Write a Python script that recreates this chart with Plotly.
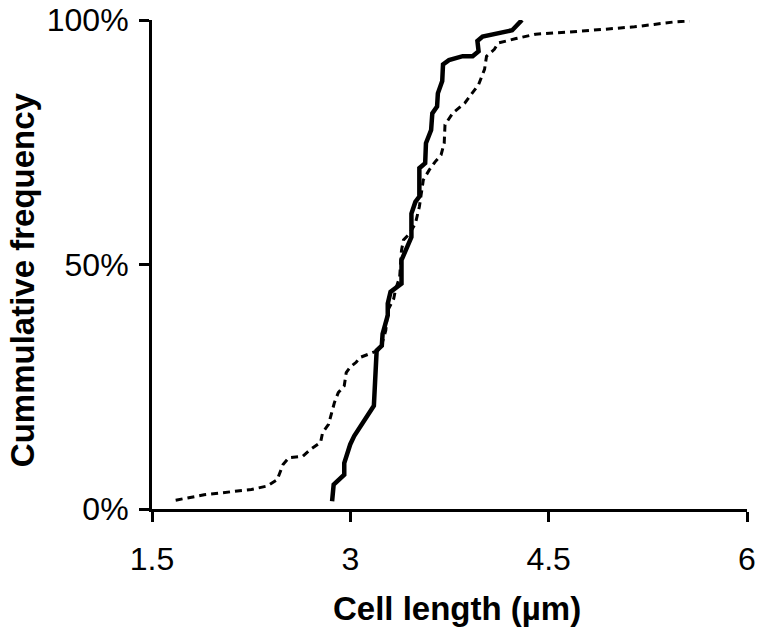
import plotly.graph_objects as go

# Solid curve (cell length in µm, cumulative %)
solid_x = [2.862, 2.874, 2.954, 2.954, 2.999, 3.029, 3.178, 3.193, 3.199, 3.238, 3.244, 3.283, 3.283,
           3.304, 3.387, 3.387, 3.462, 3.462, 3.492, 3.522, 3.522, 3.566, 3.572, 3.611, 3.620, 3.656,
           3.662, 3.695, 3.701, 3.746, 3.850, 3.925, 3.970, 3.961, 4.000, 4.224, 4.269, 4.298]
solid_y = [1.6, 5.0, 7.0, 9.4, 13.2, 14.9, 21.1, 27.9, 32.4, 33.4, 35.8, 39.6, 42.0,
           44.4, 46.1, 50.9, 55.6, 60.4, 62.8, 63.9, 69.7, 70.7, 74.8, 77.5, 80.9, 82.3,
           85.0, 87.5, 90.9, 91.8, 92.6, 92.6, 93.6, 95.7, 96.6, 97.9, 99.1, 100.0]

# Dashed curve
dashed_x = [1.679, 1.894, 2.252, 2.372, 2.447, 2.491, 2.536, 2.641, 2.700, 2.775, 2.790, 2.835, 2.880,
            2.909, 2.954, 2.969, 2.999, 3.044, 3.074, 3.208, 3.238, 3.268, 3.283, 3.328, 3.343, 3.373,
            3.387, 3.402, 3.447, 3.492, 3.522, 3.537, 3.552, 3.596, 3.641, 3.686, 3.710, 3.716, 3.776,
            3.865, 3.925, 3.970, 4.015, 4.030, 4.089, 4.119, 4.253, 4.402, 4.641, 5.149, 5.298, 5.447, 5.566]
dashed_y = [1.8, 2.9, 4.0, 4.7, 6.0, 9.1, 10.5, 10.8, 12.2, 13.6, 15.6, 17.3, 21.8,
            23.8, 25.2, 27.9, 29.0, 30.0, 31.0, 32.4, 33.7, 36.5, 40.6, 43.0, 45.0, 47.4,
            52.9, 55.0, 56.3, 58.4, 61.8, 64.2, 67.3, 69.3, 71.0, 72.4, 74.8, 78.6, 81.0,
            83.0, 85.1, 86.8, 89.9, 92.6, 94.0, 95.3, 96.2, 97.1, 97.5, 98.6, 99.1, 99.6, 99.8]

x_ticks = [1.5, 3, 4.5, 6]
x_tick_labels = ["1.5", "3", "4.5", "6"]
y_ticks = [0, 50, 100]
y_tick_labels = ["0%", "50%", "100%"]

FONT = "Liberation Sans, Arial, sans-serif"

fig = go.Figure()
fig.add_trace(go.Scatter(x=dashed_x, y=dashed_y, mode="lines",
                         line=dict(color="black", width=3, dash="7px,5px"),
                         showlegend=False, hoverinfo="skip"))
fig.add_trace(go.Scatter(x=solid_x, y=solid_y, mode="lines",
                         line=dict(color="black", width=4.5),
                         showlegend=False, hoverinfo="skip"))

fig.update_layout(
    width=764, height=633,
    margin=dict(l=152, r=17, t=20, b=124, autoexpand=False),
    paper_bgcolor="white", plot_bgcolor="white",
    font=dict(family=FONT, size=32, color="black"),
    xaxis=dict(range=[1.5, 6], tickvals=x_ticks, ticktext=x_tick_labels, automargin=False,
               showgrid=False, zeroline=False, showline=True, linecolor="black", linewidth=3,
               ticks="outside", ticklen=10, tickwidth=3, tickcolor="black",
               ticklabelstandoff=10,
               tickfont=dict(family=FONT, size=32), fixedrange=True),
    yaxis=dict(range=[0, 100], tickvals=y_ticks, ticktext=y_tick_labels, automargin=False,
               showgrid=False, zeroline=False, showline=True, linecolor="black", linewidth=3,
               ticks="outside", ticklen=10, tickwidth=3, tickcolor="black",
               ticklabelstandoff=4,
               tickfont=dict(family=FONT, size=32), fixedrange=True),
    annotations=[
        dict(text="<b>Cell length (µm)</b>", xref="paper", yref="paper",
             x=0.5126, y=-0.2025, xanchor="center", yanchor="middle",
             showarrow=False, font=dict(family=FONT, size=33)),
        dict(text="<b>Cummulative frequency</b>", xref="paper", yref="paper",
             x=-0.2185, y=0.470, xanchor="center", yanchor="middle", textangle=-90,
             showarrow=False, font=dict(family=FONT, size=33)),
    ],
)

fig.write_html("out.html", config={"displayModeBar": False},
               post_script="document.body.style.margin='0';document.body.style.overflow='hidden';")
